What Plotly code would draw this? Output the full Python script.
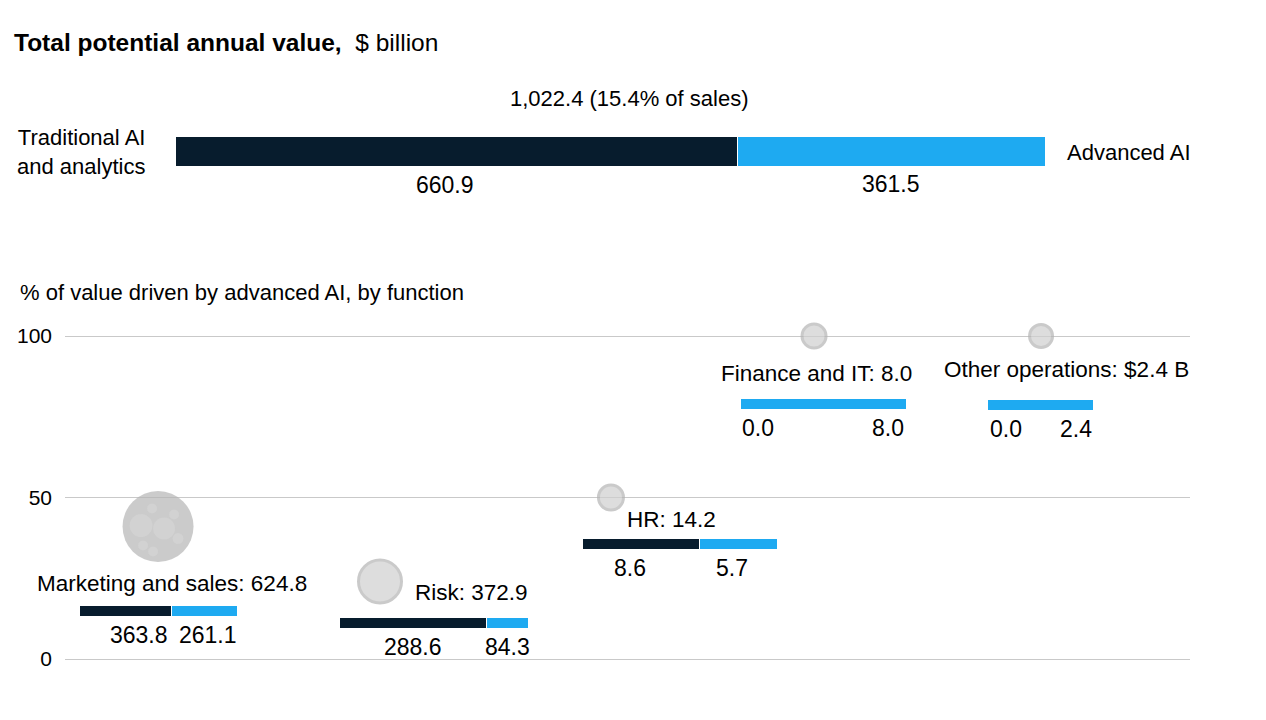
import plotly.graph_objects as go

# ---------------- data ----------------
total_trad = 660.9
total_adv = 361.5
pct_of_sales = 15.4

functions = ["Marketing and sales", "Risk", "HR", "Finance and IT", "Other operations"]
func_total = [624.8, 372.9, 14.2, 8.0, 2.4]
func_trad = [363.8, 288.6, 8.6, 0.0, 0.0]
func_adv = [261.1, 84.3, 5.7, 8.0, 2.4]
pct_adv = [41, 24, 50, 100, 100]
total_prefix = ["", "", "", "", "$"]
total_suffix = ["", "", "", "", " B"]
y_ticks = [0, 50, 100]

# ---------------- layout / style ----------------
W, H = 1266, 720
NAVY = "#071c2d"
CYAN = "#1eaaf1"
GRID = "#c9c9c9"
FONT = "Liberation Sans"

X0, X1 = 65, 1190          # plot area px (bottom chart)
Y0, Y100 = 659, 336        # px of 0 and 100
PXU = (X1 - X0) / 100.0    # px per x-unit
PYU = (Y0 - Y100) / 100.0  # px per y-unit
PAD = 1.0                  # y-range padding so edge gridlines are drawn

bubble_x = [8.27, 28.0, 48.53, 66.58, 86.76]
bubble_px = [71, 43, 25, 24, 23]
bubble_fill = ["#b5b5b5", "#cfcfcf", "#cfcfcf", "#cfcfcf", "#cfcfcf"]
bubble_line_w = [0, 3, 3, 3, 3]

bar_left = [1.33, 24.44, 46.04, 60.0, 82.04]
bar_width = [14.04, 16.8, 17.16, 14.76, 9.42]
bar_y = [14.9, 11.1, 35.6, 79.1, 78.5]
bar_thick = 3.4

label_x = [9.51, 30.93, 53.87, 66.84, 88.98]
label_y = [23.5, 20.7, 43.3, 88.5, 89.5]
label_anchor = ["center", "left", "center", "center", "center"]
trad_label_dx = [1.2, 0, -1.0, 0, 0]
adv_label_dx = [0.3, 0, -0.6, 0, 0]

# decorative inner circles of the largest bubble (px offsets from its centre)
inner_dx = [-17, 6, -6, 16, 20, -15, -5]
inner_dy = [1, -2, 18, 12, -12, -19, -25]
inner_px = [23, 22, 10, 10, 11, 10, 10]

fig = go.Figure()

# ---------- top stacked bar ----------
fig.add_trace(go.Bar(x=[total_trad], y=[0], orientation="h", width=1,
                     marker=dict(color=NAVY, line=dict(color="white", width=1)),
                     xaxis="x2", yaxis="y2", hoverinfo="skip", showlegend=False))
fig.add_trace(go.Bar(x=[total_adv], y=[0], orientation="h", width=1,
                     marker=dict(color=CYAN, line=dict(color="white", width=1)),
                     xaxis="x2", yaxis="y2", hoverinfo="skip", showlegend=False))

# ---------- mini bars ----------
trad_w = [bw * t / tot for bw, t, tot in zip(bar_width, func_trad, func_total)]
adv_w = [bw * a / tot for bw, a, tot in zip(bar_width, func_adv, func_total)]
adv_base = [l + tw for l, tw in zip(bar_left, trad_w)]
fig.add_trace(go.Bar(x=trad_w, y=bar_y, base=bar_left, orientation="h", width=bar_thick,
                     marker=dict(color=NAVY, line=dict(color="white", width=1)),
                     hoverinfo="skip", showlegend=False))
fig.add_trace(go.Bar(x=adv_w, y=bar_y, base=adv_base, orientation="h", width=bar_thick,
                     marker=dict(color=CYAN, line=dict(color="white", width=1)),
                     hoverinfo="skip", showlegend=False))

# ---------- bubbles ----------
fig.add_trace(go.Scatter(x=bubble_x, y=pct_adv, mode="markers", cliponaxis=False,
                         marker=dict(size=bubble_px, color=bubble_fill,
                                     line=dict(color="#b5b5b5", width=bubble_line_w)),
                         hoverinfo="skip", showlegend=False))
fig.add_trace(go.Scatter(x=[bubble_x[0] + dx / PXU for dx in inner_dx],
                         y=[pct_adv[0] + dy / PYU for dy in inner_dy],
                         mode="markers", cliponaxis=False,
                         marker=dict(size=inner_px, color="#d4d4d4", line=dict(width=0)),
                         hoverinfo="skip", showlegend=False))

ann = []
def txt(text, x, y, xref="paper", yref="paper", xanchor="center", yanchor="middle",
        size=22, align="center", yshift=0, xshift=0):
    ann.append(dict(text=text, x=x, y=y, xref=xref, yref=yref, xanchor=xanchor,
                    yanchor=yanchor, showarrow=False, align=align, yshift=yshift,
                    xshift=xshift, font=dict(family=FONT, size=size, color="#000000")))

def px(xp, yp):
    return xp / W, 1 - yp / H

# title
x, y = px(12, 42)
txt("<b>Total potential annual value,</b>  $ billion", x, y, xanchor="left", size=24.5)
x, y = px(629, 99)
txt(f"{total_trad + total_adv:,.1f} ({pct_of_sales}% of sales)", x, y, size=22)
x, y = px(147, 152)
txt("Traditional AI<br>and analytics", x, y, xanchor="right", align="right", size=22)
x, y = px(1065, 152)
txt("Advanced AI", x, y, xanchor="left", size=22)
txt(f"{total_trad:.1f}", total_trad / 2, 0, xref="x2", yref="y2", yshift=-34, xshift=-11, size=23)
txt(f"{total_adv:.1f}", total_trad + total_adv / 2, 0, xref="x2", yref="y2", yshift=-33, size=23)

x, y = px(18, 292)
txt("% of value driven by advanced AI, by function", x, y, xanchor="left", size=22)

# category labels
for i, name in enumerate(functions):
    txt(f"{name}: {total_prefix[i]}{func_total[i]:.1f}{total_suffix[i]}",
        label_x[i], label_y[i], xref="x", yref="y", xanchor=label_anchor[i], size=22.5)
    if func_trad[i] > 0:
        txt(f"{func_trad[i]:.1f}", bar_left[i] + trad_w[i] / 2 + trad_label_dx[i], bar_y[i],
            xref="x", yref="y", yshift=-24, size=23)
        txt(f"{func_adv[i]:.1f}", adv_base[i] + adv_w[i] / 2 + adv_label_dx[i], bar_y[i],
            xref="x", yref="y", yshift=-24, size=23)
    else:
        txt(f"{func_trad[i]:.1f}", bar_left[i], bar_y[i], xref="x", yref="y",
            xanchor="left", yshift=-24, size=23)
        txt(f"{func_adv[i]:.1f}", bar_left[i] + bar_width[i], bar_y[i], xref="x", yref="y",
            xanchor="right", yshift=-24, size=23)

fig.update_layout(
    width=W, height=H, margin=dict(l=0, r=0, t=0, b=0, autoexpand=False),
    paper_bgcolor="white", plot_bgcolor="white",
    barmode="stack", showlegend=False, annotations=ann,
    font=dict(family=FONT, size=22, color="#000000"),
    xaxis=dict(domain=[X0 / W, X1 / W], range=[0, 100], visible=False, fixedrange=True,
               automargin=False),
    yaxis=dict(domain=[1 - (Y0 + PAD * PYU) / H, 1 - (Y100 - PAD * PYU) / H],
               range=[-PAD, 100 + PAD], tickvals=y_ticks,
               showgrid=True, gridcolor=GRID, gridwidth=1, zeroline=False, showline=False,
               ticks="", ticklabelstandoff=12, automargin=False,
               tickfont=dict(family=FONT, size=21, color="#000000"), fixedrange=True),
    xaxis2=dict(domain=[175 / W, 1045 / W], range=[0, total_trad + total_adv], visible=False,
                anchor="y2", fixedrange=True, automargin=False),
    yaxis2=dict(domain=[1 - 166 / H, 1 - 136 / H], range=[-0.5, 0.5], visible=False,
                anchor="x2", fixedrange=True, automargin=False),
)

post = ("var gd=document.getElementById('{plot_id}');"
        "document.body.style.margin='0';document.body.style.overflow='hidden';"
        "gd.style.position='absolute';gd.style.left='0px';gd.style.top='0px';")
fig.write_html("out.html", post_script=post, config={"displayModeBar": False})
